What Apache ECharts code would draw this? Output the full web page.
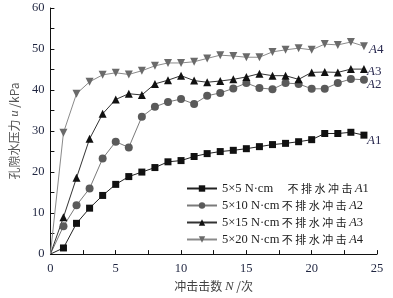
<!DOCTYPE html>
<html>
<head>
<meta charset="utf-8">
<script src="https://cdn.jsdelivr.net/npm/echarts@6/dist/echarts.min.js"></script>
<style>html,body{margin:0;padding:0;background:#fff}#chart{width:393px;height:298px}</style>
</head>
<body>
<div id="chart"></div>
<script>
// impact counts N
var counts = [0,1,2,3,4,5,6,7,8,9,10,11,12,13,14,15,16,17,18,19,20,21,22,23,24];
// pore water pressure u /kPa
var a1 = [0,1.5,7.5,11.2,14.3,17.0,18.9,20.0,21.1,22.5,22.8,23.8,24.5,25.0,25.3,25.7,26.2,26.7,27.0,27.4,27.9,29.4,29.4,29.7,29.0];
var a2 = [0,6.8,11.9,16.0,23.3,27.4,26.0,33.5,35.9,37.1,37.8,36.6,38.6,39.3,40.4,41.7,40.5,40.2,41.7,41.5,40.3,40.3,41.7,42.7,42.5];
var a3 = [0,9.0,18.6,28.1,34.2,37.7,39.1,38.8,41.5,42.4,43.5,42.3,41.9,42.2,42.6,43.2,44.0,43.5,43.5,42.6,44.3,44.4,44.3,45.1,45.1];
var a4 = [0,29.6,39.1,42.0,43.7,44.2,43.8,44.7,45.9,46.6,46.6,46.9,47.7,48.5,48.3,48.0,48.0,49.3,49.8,50.2,49.8,51.2,51.0,51.7,50.7];
var energies = ["5×5", "5×10", "5×15", "5×20"];
var tags = ["1", "2", "3", "4"];

var chart = echarts.init(document.getElementById("chart"));
var serif = "'Liberation Serif','Times New Roman',serif";
var cjk = "'Noto Sans CJK SC',sans-serif";

function pts(vals) {
    return vals.map(function(v, i) {
        var d = {value: [counts[i], v]};
        if (i == 0) {d.symbol = "none"}
        return d;
    });
}

var looks = [
    {data: a1, symbol: "rect", size: 7, mark: "#111", line: "#222", off: [0, 5]},
    {data: a2, symbol: "circle", size: 8, mark: "#5a5a5a", line: "#7a7a7a", off: [0, 5]},
    {data: a3, symbol: "triangle", size: 8, mark: "#111", line: "#333", off: [0, 2]},
    {data: a4, symbol: "triangle", size: 8, mark: "#6a6a6a", line: "#8a8a8a", off: [2, 3], rotate: 180},
];

var series = looks.map(function(s, k) {
    return {
        name: energies[k] + " N·cm",
        type: "line",
        data: pts(s.data),
        symbol: s.symbol,
        symbolRotate: s.rotate || 0,
        symbolSize: s.size,
        itemStyle: {color: s.mark},
        lineStyle: {color: s.line, width: 1},
        endLabel: {
            show: true, offset: s.off, distance: 3,
            formatter: "{i|A}{n|" + tags[k] + "}",
            rich: {
                i: {fontFamily: serif, fontStyle: "italic", fontSize: 13, color: "#2a2a50"},
                n: {fontFamily: serif, fontSize: 13, color: "#2a2a50"},
            },
        },
        emphasis: {disabled: true},
        animation: false,
    };
});

chart.setOption({
    animation: false,
    grid: {left: 47, right: 16, top: 8, bottom: 43},
    legend: {
        orient: "vertical", left: 181, top: 177, itemGap: 4,
        itemWidth: 30, itemHeight: 8,
        data: series.map(function(s) {return s.name}),
        formatter: function(name) {
            var k = series.findIndex(function(s) {return s.name == name});
            var pad = k == 0 ? "{g|}" : "";
            return "{t|" + energies[k] + " N·cm}" + pad + "{c| 不 排 水 冲 击 }{i|A}{t|" + tags[k] + "}";
        },
        textStyle: {
            rich: {
                t: {fontFamily: serif, fontSize: 12.5, color: "#222"},
                c: {fontFamily: cjk, fontSize: 11, color: "#222"},
                i: {fontFamily: serif, fontStyle: "italic", fontSize: 12.5, color: "#222"},
                g: {width: 12},
            },
        },
    },
    xAxis: {
        type: "value", min: 0, max: 25, interval: 2.5,
        name: "{c|冲击击数 }{i|N}{c| /次}", nameLocation: "middle", nameGap: 24,
        nameTextStyle: {rich: {
            c: {fontFamily: cjk, fontSize: 12, color: "#444"},
            i: {fontFamily: serif, fontStyle: "italic", fontSize: 13, color: "#444"},
        }},
        axisLine: {lineStyle: {color: "#111", width: 1}},
        axisTick: {inside: true, length: 4, lineStyle: {color: "#111"}},
        axisLabel: {
            fontFamily: serif, fontSize: 12.5, color: "#1f2540", margin: 8,
            formatter: function(v) {return v % 5 == 0 ? String(v) : ""},
        },
        splitLine: {show: false},
    },
    yAxis: {
        type: "value", min: 0, max: 60, interval: 5,
        name: "{c|孔隙水压力 }{i|u}{c| /kPa}", nameLocation: "middle", nameGap: 27,
        nameTextStyle: {rich: {
            c: {fontFamily: cjk, fontSize: 12, color: "#555"},
            i: {fontFamily: serif, fontStyle: "italic", fontSize: 13, color: "#555"},
        }},
        axisLine: {show: true, lineStyle: {color: "#111", width: 1}},
        axisTick: {show: true, inside: true, length: 4, lineStyle: {color: "#111"}},
        axisLabel: {
            fontFamily: serif, fontSize: 12.5, color: "#1f2540", margin: 6,
            formatter: function(v) {return v % 10 == 0 ? String(v) : ""},
        },
        splitLine: {show: false},
    },
    series: series,
});
</script>
</body>
</html>
